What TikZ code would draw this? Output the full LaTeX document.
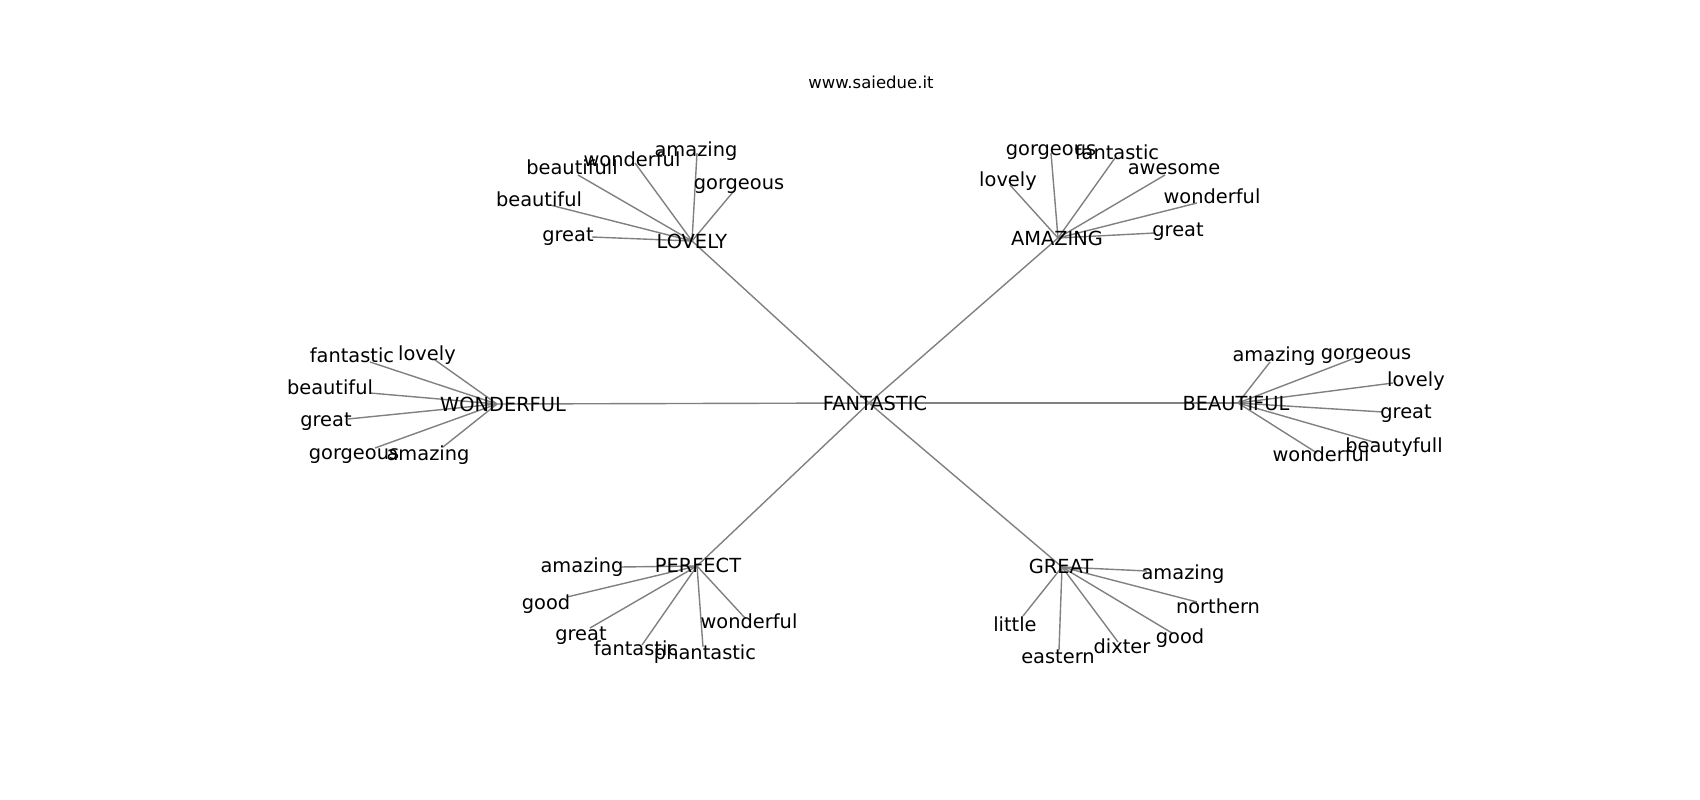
\documentclass[tikz,border=0pt]{standalone}
\usepackage{fontspec}
\setmainfont{DejaVu Sans}
\usetikzlibrary{backgrounds}

\begin{document}
\begin{tikzpicture}[x=1pt,y=-1pt,
    word/.style={anchor=center,inner sep=0pt,yshift=-4pt,font=\fontsize{19.4}{23}\selectfont,text height=0.73em,text depth=0.24em},
    hub/.style={word,text depth=0pt},
    site/.style={anchor=center,inner sep=0pt,yshift=-3pt,font=\fontsize{16.5}{20}\selectfont,text height=0.76em,text depth=0pt},
    edge/.style={draw=gray,line width=1.4pt}]
    \useasboundingbox (0,0) rectangle (1700,800);
    \node[site] (title) at (871,82) {www.saiedue.it};
    % hubs
    \node[hub] (fantastic) at (875,403) {FANTASTIC}; \coordinate (fantastic-c) at (869,403);
    \node[hub] (lovely) at (692,241) {LOVELY}; \coordinate (lovely-c) at (692,241);
    \node[hub] (amazing) at (1057,238) {AMAZING}; \coordinate (amazing-c) at (1058,238);
    \node[hub] (wonderful) at (503,404) {WONDERFUL}; \coordinate (wonderful-c) at (497,404);
    \node[hub] (beautiful) at (1236,403) {BEAUTIFUL}; \coordinate (beautiful-c) at (1238,403);
    \node[hub] (perfect) at (698,565) {PERFECT}; \coordinate (perfect-c) at (697,566);
    \node[hub] (great) at (1061,566) {GREAT}; \coordinate (great-c) at (1062,567);
    % LOVELY
    \node[word] (lv1) at (568,235) {great}; \coordinate (lv1e) at (592,237);
    \node[word] (lv2) at (539,200) {beautiful}; \coordinate (lv2e) at (550,205);
    \node[word] (lv3) at (572,168) {beautifull}; \coordinate (lv3e) at (578,175);
    \node[word] (lv4) at (632,160) {wonderful}; \coordinate (lv4e) at (635,163);
    \node[word] (lv5) at (696,150) {amazing}; \coordinate (lv5e) at (697,153);
    \node[word] (lv6) at (739,183) {gorgeous}; \coordinate (lv6e) at (733,192);
    % AMAZING
    \node[word] (am1) at (1008,180) {lovely}; \coordinate (am1e) at (1010,185);
    \node[word] (am2) at (1051,149) {gorgeous}; \coordinate (am2e) at (1051,153);
    \node[word] (am3) at (1117,153) {fantastic}; \coordinate (am3e) at (1115,158);
    \node[word] (am4) at (1174,168) {awesome}; \coordinate (am4e) at (1165,175);
    \node[word] (am5) at (1212,197) {wonderful}; \coordinate (am5e) at (1197,203);
    \node[word] (am6) at (1178,230) {great}; \coordinate (am6e) at (1155,233);
    % WONDERFUL
    \node[word] (wo1) at (352,356) {fantastic}; \coordinate (wo1e) at (370,362);
    \node[word] (wo2) at (427,354) {lovely}; \coordinate (wo2e) at (435,360);
    \node[word] (wo3) at (330,388) {beautiful}; \coordinate (wo3e) at (370,393);
    \node[word] (wo4) at (326,420) {great}; \coordinate (wo4e) at (348,419);
    \node[word] (wo5) at (354,453) {gorgeous}; \coordinate (wo5e) at (375,448);
    \node[word] (wo6) at (428,454) {amazing}; \coordinate (wo6e) at (443,447);
    % BEAUTIFUL
    \node[word] (be1) at (1274,355) {amazing}; \coordinate (be1e) at (1270,362);
    \node[word] (be2) at (1366,353) {gorgeous}; \coordinate (be2e) at (1355,358);
    \node[word] (be3) at (1416,380) {lovely}; \coordinate (be3e) at (1393,383);
    \node[word] (be4) at (1406,412) {great}; \coordinate (be4e) at (1383,412);
    \node[word] (be5) at (1394,446) {beautyfull}; \coordinate (be5e) at (1377,443);
    \node[word] (be6) at (1321,455) {wonderful}; \coordinate (be6e) at (1317,453);
    % PERFECT
    \node[word] (pe1) at (582,566) {amazing}; \coordinate (pe1e) at (620,567);
    \node[word] (pe2) at (546,603) {good}; \coordinate (pe2e) at (567,597);
    \node[word] (pe3) at (581,634) {great}; \coordinate (pe3e) at (590,628);
    \node[word] (pe4) at (636,649) {fantastic}; \coordinate (pe4e) at (642,645);
    \node[word] (pe5) at (705,653) {phantastic}; \coordinate (pe5e) at (703,647);
    \node[word] (pe6) at (749,622) {wonderful}; \coordinate (pe6e) at (745,618);
    % GREAT
    \node[word] (gr1) at (1183,573) {amazing}; \coordinate (gr1e) at (1147,571);
    \node[word] (gr2) at (1218,607) {northern}; \coordinate (gr2e) at (1197,602);
    \node[word] (gr3) at (1180,637) {good}; \coordinate (gr3e) at (1172,633);
    \node[word] (gr4) at (1122,647) {dixter}; \coordinate (gr4e) at (1118,642);
    \node[word] (gr5) at (1058,657) {eastern}; \coordinate (gr5e) at (1059,650);
    \node[word] (gr6) at (1015,625) {little}; \coordinate (gr6e) at (1023,616);
    % edges
    \begin{scope}[on background layer]
        \foreach \h in {lovely,amazing,wonderful,beautiful,perfect,great}
            \draw[edge] (fantastic-c) -- (\h-c);
        \foreach \h/\p in {lovely/lv,amazing/am,wonderful/wo,beautiful/be,perfect/pe,great/gr}
            \foreach \i in {1,...,6}
                \draw[edge] (\h-c) -- (\p\i e);
    \end{scope}
\end{tikzpicture}
\end{document}
